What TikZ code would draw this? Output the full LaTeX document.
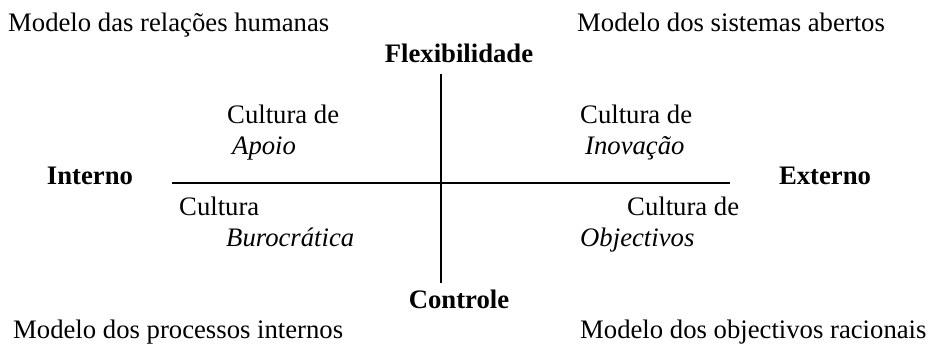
\documentclass[tikz,border=0pt]{standalone}
\usepackage{fontspec}
\setmainfont{Liberation Serif}
\begin{document}
\begin{tikzpicture}[x=1pt,y=-1pt,
  lbl/.style={anchor=base west,inner sep=0pt,font=\fontsize{26.7}{30}\selectfont},
  hd/.style={anchor=base,inner sep=0pt,font=\fontsize{26.7}{30}\selectfont\bfseries},
  it/.style={lbl,font=\fontsize{26.7}{30}\selectfont\itshape},
  axis/.style={line width=1.8pt,black}]
\useasboundingbox (0,0) rectangle (930,344);
\fill[white] (0,0) rectangle (930,344);
\node[lbl] (a) at (8,32) {Modelo das relações humanas};
\node[lbl] (b) at (577,32) {Modelo dos sistemas abertos};
\node[hd] (flex) at (459,63) {Flexibilidade};
\node[lbl] (c) at (227,124) {Cultura de};
\node[it] (d) at (232,155) {Apoio};
\node[lbl] (e) at (580,124) {Cultura de};
\node[it] (f) at (585,155) {Inovação};
\node[hd] (int) at (90,185) {Interno};
\node[hd] (ext) at (825,185) {Externo};
\node[lbl] (g) at (179,216) {Cultura};
\node[it] (h) at (226,247) {Burocrática};
\node[lbl] (i) at (627,216) {Cultura de};
\node[it] (j) at (580,247) {Objectivos};
\node[hd] (ctrl) at (459,309) {Controle};
\node[lbl] (k) at (13,339) {Modelo dos processos internos};
\node[lbl] (l) at (580,339) {Modelo dos objectivos racionais};
\coordinate (L) at (172,183);
\coordinate (R) at (730,183);
\coordinate (T) at (441,74);
\coordinate (B) at (441,283);
\draw[axis] (L) -- (R);
\draw[axis] (T) -- (B);
\end{tikzpicture}
\end{document}
